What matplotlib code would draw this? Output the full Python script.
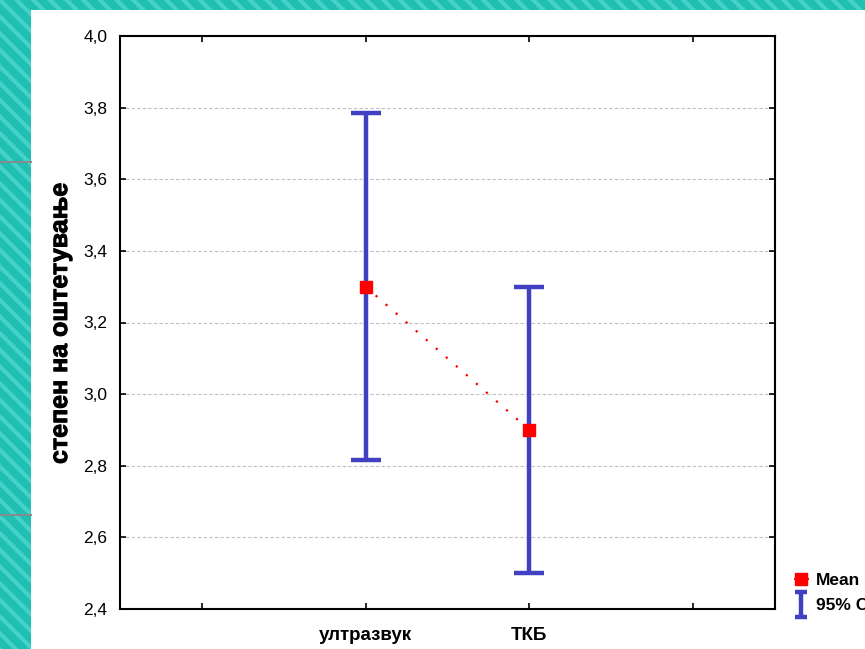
#!/usr/bin/env python3
import matplotlib
matplotlib.use("Agg")
import matplotlib.pyplot as plt
import matplotlib.patheffects as pe
from matplotlib.patches import Rectangle
from matplotlib.lines import Line2D
from matplotlib.path import Path

categories = ["ултразвук", "ТКБ"]
means = [3.30, 2.90]
ci_low = [2.815, 2.50]
ci_high = [3.785, 3.30]

y_label = "степен на оштетување"
y_ticks = [2.4, 2.6, 2.8, 3.0, 3.2, 3.4, 3.6, 3.8, 4.0]
legend_labels = ["Mean", "95% CI"]

BLUE = "#4040c0"
RED = "#ff0000"

plt.rcParams["font.family"] = ["Liberation Sans", "DejaVu Sans"]
plt.rcParams["hatch.linewidth"] = 3.0
plt.rcParams["hatch.color"] = "#45d3c8"

fig = plt.figure(figsize=(8.65, 6.49), dpi=100)
fig.patch.set_facecolor("#1fbfb3")

# striped teal background and the white slide area
fig.patches.append(Rectangle((0, 0), 1, 1, transform=fig.transFigure,
                             facecolor="#1fbfb3", edgecolor="#45d3c8",
                             hatch="\\\\", linewidth=0, zorder=-3))
fig.patches.append(Rectangle((31 / 865, 0), 1, 1 - 10 / 649, transform=fig.transFigure,
                             facecolor="white", edgecolor="none", zorder=-2))
for yy in [162, 515]:
    fig.lines.append(Line2D([0, 31 / 865], [1 - yy / 649] * 2, transform=fig.transFigure,
                            color="#7f8f8f", linewidth=1.5))

ax = fig.add_axes([120 / 865, 40 / 649, 655 / 865, 573 / 649])
ax.set_facecolor("white")

x = [1, 2]
yerr = [[m - lo for m, lo in zip(means, ci_low)],
        [hi - m for m, hi in zip(means, ci_high)]]

ax.errorbar(x, means, yerr=yerr, fmt="none", ecolor=BLUE, elinewidth=3.2,
            capsize=11, capthick=3.2, zorder=3)
mean_line, = ax.plot(x, means, color=RED, linestyle=(0, (1, 5)), linewidth=1.6,
                     marker="s", markersize=8, markerfacecolor=RED,
                     markeredgecolor=RED, zorder=4)

ax.set_xlim(-0.5, 3.5)
ax.set_ylim(2.4, 4.0)
ax.set_xticks([0, 1, 2, 3])
ax.set_xticklabels(["", categories[0], categories[1], ""],
                   fontsize=13.5, fontweight="bold")
ax.set_yticks(y_ticks)
ax.set_yticklabels([f"{v:.1f}".replace(".", ",") for v in y_ticks], fontsize=12.5)
ax.tick_params(direction="in", length=4, width=1.2, top=True, right=True, pad=9)
ax.tick_params(axis="x", pad=13)

ax.yaxis.grid(True, linestyle=(0, (3, 2)), color="#c0c0c0", linewidth=0.8)
ax.set_axisbelow(True)
for sp in ax.spines.values():
    sp.set_linewidth(1.5)
    sp.set_color("black")

# y-axis title as figure text, with a thin stroke to get the heavy look
fig.text(60 / 865, 1 - 323 / 649, y_label, rotation=90, ha="center", va="center",
         fontsize=18, fontweight="bold", family=["Liberation Sans", "DejaVu Sans"],
         path_effects=[pe.withStroke(linewidth=0.7, foreground="black")])

# I-shaped marker for the confidence-interval legend entry
i_path = Path([(-0.5, 1), (0.5, 1), (0, 1), (0, -1), (-0.5, -1), (0.5, -1)],
              [Path.MOVETO, Path.LINETO, Path.MOVETO, Path.LINETO, Path.MOVETO, Path.LINETO])
ci_handle = Line2D([], [], linestyle="none", marker=i_path, markersize=18,
                   markeredgewidth=3.2, color=BLUE, markerfacecolor="none")

ax.legend([mean_line, ci_handle], legend_labels, loc="center left",
          bbox_to_anchor=(785 / 865, 1 - 593 / 649), bbox_transform=fig.transFigure,
          frameon=False, handlelength=0.9, handletextpad=0.4, borderpad=0,
          labelspacing=0.6, prop={"weight": "bold", "size": 12.5})

fig.savefig("out.png", dpi=100)
